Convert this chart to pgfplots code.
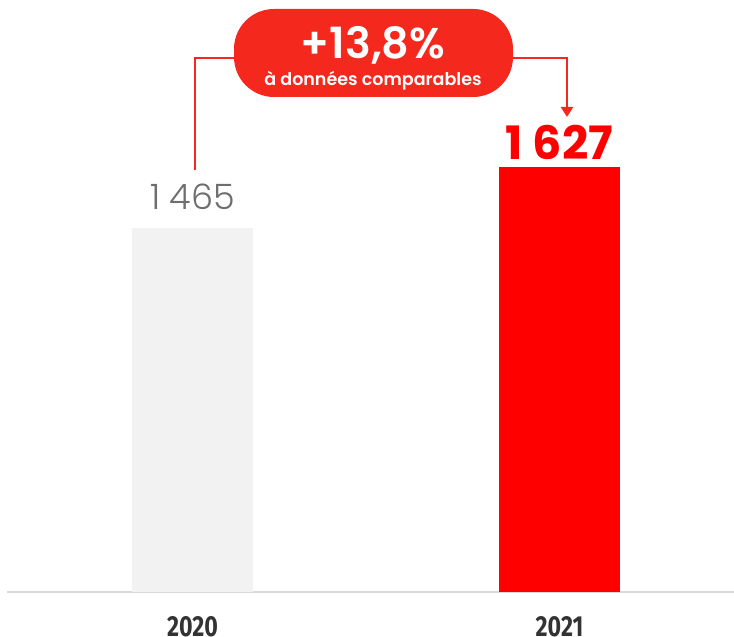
\documentclass[border=0pt]{standalone}
\usepackage{fontspec}
\usepackage{pgfplots}
\pgfplotsset{compat=1.18}
\usetikzlibrary{arrows.meta}
\setmainfont{Poppins}
\newfontfamily\lightfont{Poppins Light}
\newfontfamily\semifont{Poppins SemiBold}
\newfontfamily\yearfont[FakeStretch=0.8]{Fira Sans}
\definecolor{bargrey}{HTML}{F2F2F2}
\definecolor{labgrey}{HTML}{6E6E6E}
\definecolor{barred}{HTML}{FF0000}
\definecolor{calloutred}{HTML}{F5281E}
\definecolor{baseline}{HTML}{D9D9D9}
\definecolor{yearcol}{HTML}{333333}
\begin{document}
\begin{tikzpicture}[x=1pt,y=1pt]
\useasboundingbox (0,0) rectangle (734,637);
\begin{axis}[
  at={(7pt,45pt)}, anchor=south west, scale only axis,
  width=727pt, height=592pt,
  xmin=-0.5054, xmax=1.4755, ymin=498, ymax=2070,
  axis x line=bottom, axis y line=none,
  axis line style={-, draw=baseline, line width=1.5pt},
  xtick={0,1}, xticklabels={2020,2021}, major tick length=0pt,
  xticklabel style={anchor=base, yshift=-45pt, text=yearcol,
    font=\yearfont\bfseries\fontsize{29}{32}\selectfont},
  ytick=\empty,
]
\addplot[ybar, bar width=121pt, bar shift=0pt, fill=bargrey, draw=none,
  point meta=explicit symbolic, nodes near coords,
  every node near coord/.append style={anchor=base, yshift=18pt, text=labgrey,
    font=\lightfont\fontsize{35}{40}\selectfont}]
  coordinates {(0,1465) [1 465]};
\addplot[ybar, bar width=121pt, bar shift=0pt, fill=barred, draw=none,
  point meta=explicit symbolic, nodes near coords,
  every node near coord/.append style={anchor=base, yshift=7pt, text=barred,
    font=\bfseries\fontsize{46}{50}\selectfont}]
  coordinates {(1,1627) [1 627]};
\end{axis}
\draw[calloutred, line width=2.5pt] (195,467) -- (195,579) -- (240,579);
\draw[calloutred, line width=2.5pt, -{Triangle[width=12pt,length=10pt]}] (505,579) -- (567,579) -- (567,520);
\fill[calloutred, rounded corners=40pt] (234,540) rectangle (513,628);
\node[text=white, inner sep=0pt, font=\semifont\fontsize{43}{46}\selectfont] at (373,592) {+13,8\%};
\node[text=white, inner sep=0pt, anchor=base, font=\semifont\fontsize{17.5}{20}\selectfont] at (373,551) {à données comparables};
\end{tikzpicture}
\end{document}
